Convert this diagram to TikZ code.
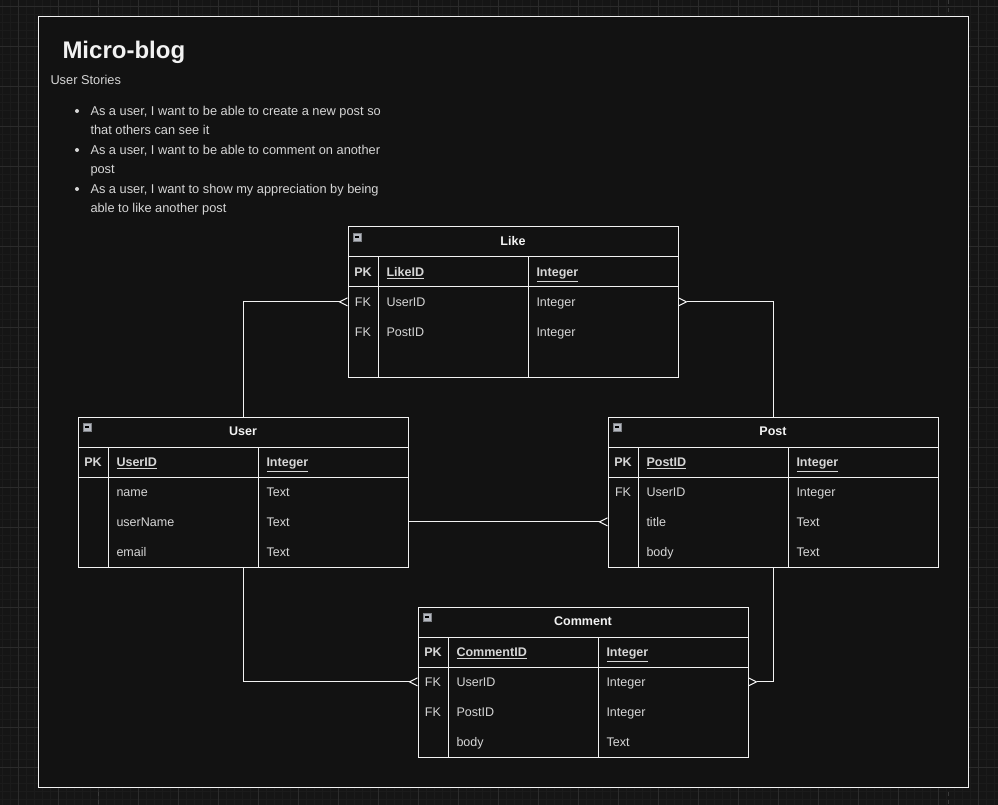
\documentclass[tikz,border=0pt]{standalone}
\usepackage{fontspec}
\setmainfont{Liberation Sans}
\usetikzlibrary{positioning}
\usetikzlibrary{arrows.meta}

\definecolor{canvas}{HTML}{151515}
\definecolor{gridminor}{HTML}{1B1B1B}
\definecolor{gridmajor}{HTML}{2B2B2B}
\definecolor{gridpage}{HTML}{3A3A3A}
\definecolor{panel}{HTML}{121212}
\definecolor{ink}{HTML}{F2F2F2}
\definecolor{soft}{HTML}{D6D6D6}
\definecolor{iconfill}{HTML}{B4B8C0}

\begin{document}
\begin{tikzpicture}[
        x=0.75pt, y=-0.75pt,
        line width=0.75pt,
        txt/.style = {font=\fontsize{9.4}{11}\selectfont, text=soft, inner sep=0pt},
        head/.style = {txt, font=\fontsize{9.4}{11}\selectfont\bfseries, text=ink},
        table/.style = {draw=ink, fill=panel, anchor=north west, minimum width=247.5pt, minimum height=112.5pt, inner sep=0pt, outer sep=0pt},
        keycell/.style = {txt, anchor=base, text height=6.7pt, text depth=0pt},
        namecell/.style = {txt, anchor=base west},
        many/.style = {draw=ink, -{Straight Barb[reversed, length=6pt, width=6pt, line width=0.75pt]}}
    ]
    % canvas and grid
    \useasboundingbox (0,0) rectangle (998,805);
    \fill[canvas] (0,0) rectangle (998,805);
    \foreach \gx in {2,10,...,998} \draw[gridminor] (\gx,0) -- (\gx,805);
    \foreach \gy in {-1,7,...,805} \draw[gridminor] (0,\gy) -- (998,\gy);
    \foreach \gx in {18,58,...,998} \draw[gridmajor] (\gx,0) -- (\gx,805);
    \foreach \gy in {7,47,...,805} \draw[gridmajor] (0,\gy) -- (998,\gy);
    \draw[gridpage, dashed] (98,0) -- (98,805) (948,0) -- (948,805);
    \draw[ink, fill=panel] (38,17) rectangle (968,787);

    % heading and user stories
    \node[anchor=west, inner sep=0pt, text=ink, font=\fontsize{18}{22}\selectfont\bfseries] (title) at (62,52) {Micro-blog};
    \node[txt, anchor=base west, font=\fontsize{9.6}{11}\selectfont] (stories) at (50,84.5) {User Stories};
    \foreach \sy/\stext [count=\s] in {115.5/{As a user, I want to be able to create a new post so\\that others can see it},
                                        154.5/{As a user, I want to be able to comment on another\\post},
                                        193.5/{As a user, I want to show my appreciation by being\\able to like another post}} {
        \fill[soft] (77,\sy-4.5) circle (2);
        \node[txt, anchor=base west, align=left, font=\fontsize{9.6}{14.4}\selectfont] (story-\s) at (90,\sy+19.2) {\stext};
    }

    % tables
    \foreach \t/\x/\y/\h in {like/348/227/Like, user/78/417/User, post/608/417/Post, comment/418/607/Comment} {
        \node[table] (\t) at (\x,\y) {};
        \draw[ink] (\x,\y+30) -- +(330,0) (\x,\y+60) -- +(330,0);
        \draw[ink] (\x+30,\y+30) -- +(0,120) (\x+180,\y+30) -- +(0,120);
        \node[head, anchor=base] (\t-head) at (\x+165,\y+18.5) {\h};
        \draw[draw=iconfill!70!black, fill=iconfill, line width=0.5pt] (\x+5,\y+6) rectangle +(8,8);
        \draw[black, line width=0.9pt] (\x+6.8,\y+10) -- +(4.4,0);
    }

    % rows
    \foreach \k/\n/\v [count=\i from 0] in {\textbf{PK}/\textbf{\underline{LikeID}}/\textbf{\underline{Integer}}, FK/UserID/Integer, FK/PostID/Integer} {
        \node[keycell] (like-\i) at (363,276.3+30*\i) {\k};
        \node[namecell] at (386,276.3+30*\i) {\n};
        \node[namecell] at (536,276.3+30*\i) {\v};
    }
    \foreach \k/\n/\v [count=\i from 0] in {\textbf{PK}/\textbf{\underline{UserID}}/\textbf{\underline{Integer}}, {}/name/Text, {}/userName/Text, {}/email/Text} {
        \node[keycell] (user-\i) at (93,466.3+30*\i) {\k};
        \node[namecell] at (116,466.3+30*\i) {\n};
        \node[namecell] at (266,466.3+30*\i) {\v};
    }
    \foreach \k/\n/\v [count=\i from 0] in {\textbf{PK}/\textbf{\underline{PostID}}/\textbf{\underline{Integer}}, FK/UserID/Integer, {}/title/Text, {}/body/Text} {
        \node[keycell] (post-\i) at (623,466.3+30*\i) {\k};
        \node[namecell] at (646,466.3+30*\i) {\n};
        \node[namecell] at (796,466.3+30*\i) {\v};
    }
    \foreach \k/\n/\v [count=\i from 0] in {\textbf{PK}/\textbf{\underline{CommentID}}/\textbf{\underline{Integer}}, FK/UserID/Integer, FK/PostID/Integer, {}/body/Text} {
        \node[keycell] (comment-\i) at (433,656.3+30*\i) {\k};
        \node[namecell] at (456,656.3+30*\i) {\n};
        \node[namecell] at (606,656.3+30*\i) {\v};
    }

    % relations
    \draw[many] (user.north) |- (like.west |- like-1);
    \draw[many] (post.north) |- (like.east |- like-1);
    \draw[many] (user.east |- user-2) -- (post.west |- post-2);
    \draw[many] (user.south) |- (comment.west |- comment-1);
    \draw[many] (post.south) |- (comment.east |- comment-1);
\end{tikzpicture}
\end{document}
